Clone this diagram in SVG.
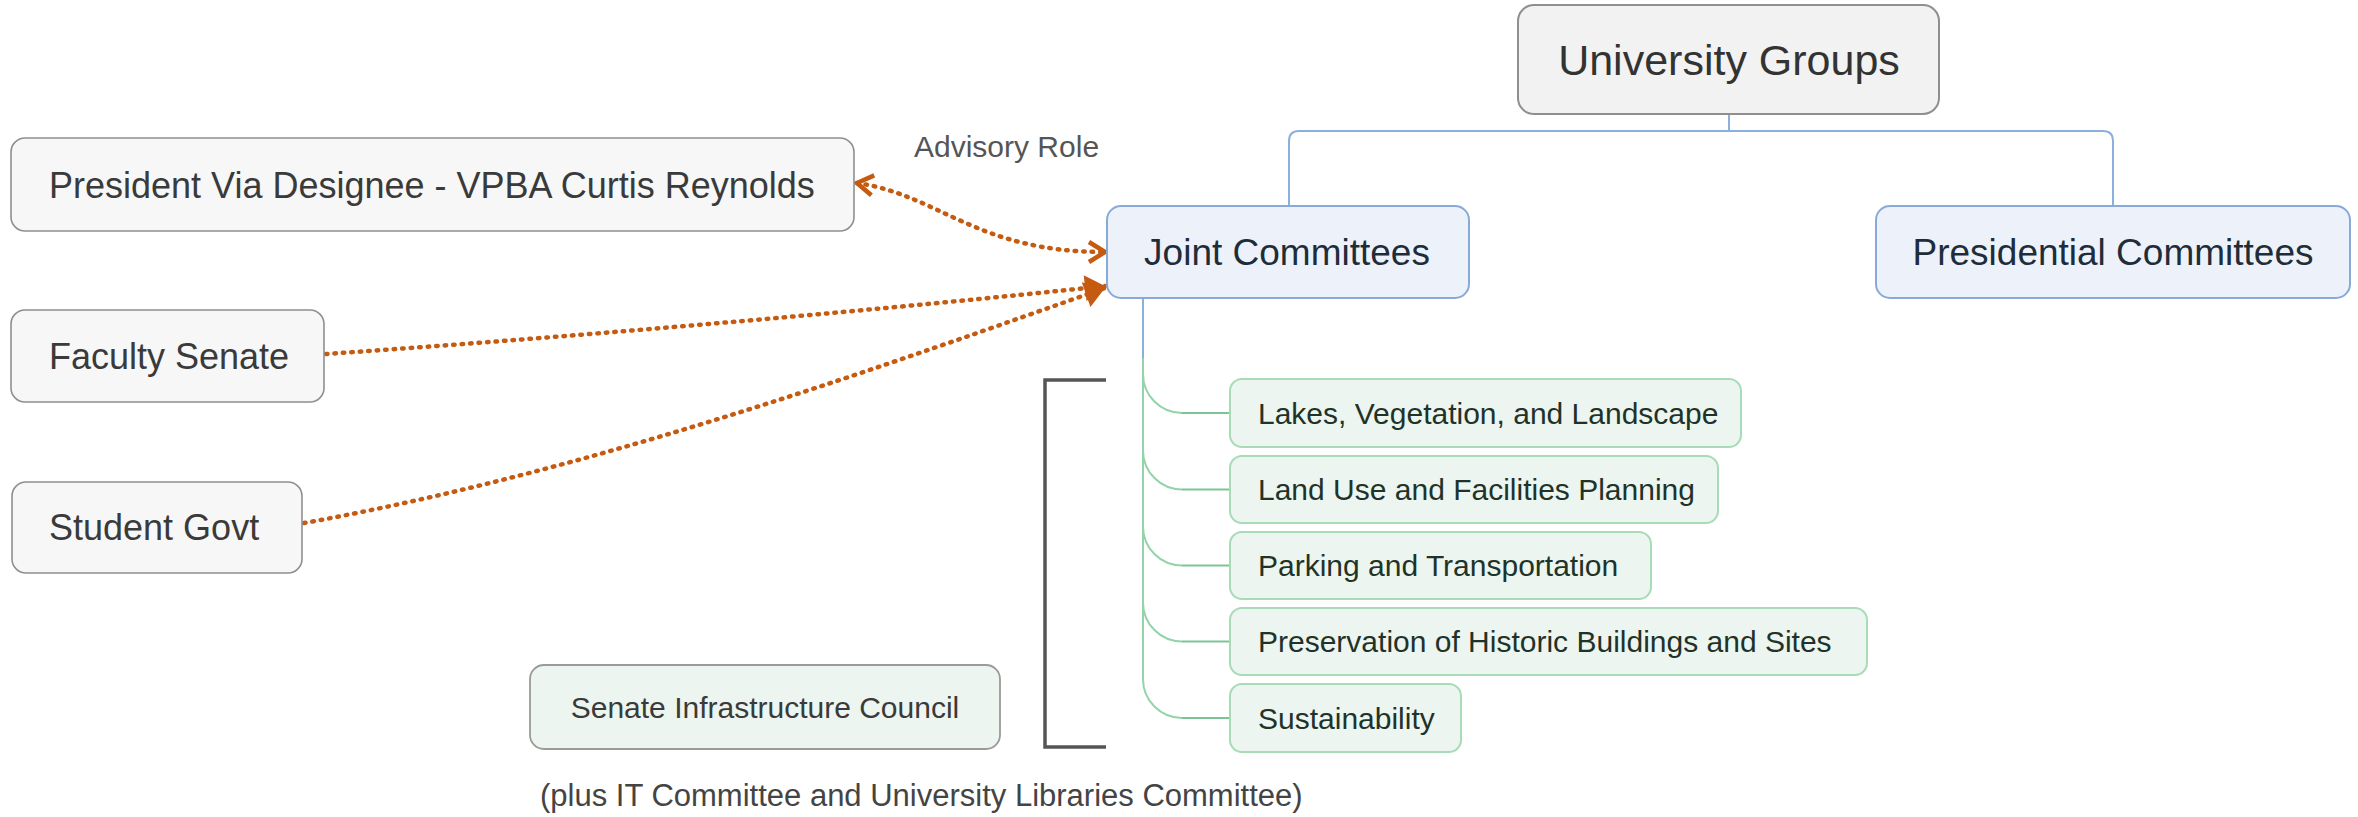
<svg xmlns="http://www.w3.org/2000/svg" width="2358" height="817" viewBox="0 0 2358 817">
<style>
text{font-family:"Liberation Sans",Arial,sans-serif;}
.box0{fill:#f2f2f2;stroke:#8f8f8f;stroke-width:2;}
.box1{fill:#edf2fa;stroke:#88aad6;stroke-width:2;}
.boxl{fill:#f7f7f7;stroke:#8f8f8f;stroke-width:1.6;}
.boxg{fill:#ecf5ef;stroke:#a8dcb8;stroke-width:2;}
.boxs{fill:#ecf5ef;stroke:#9a9a9a;stroke-width:1.8;}
.t0{font-size:43px;fill:#333;text-anchor:middle;}
.t1{font-size:37px;fill:#1f2d3a;text-anchor:middle;}
.tl{font-size:36px;fill:#3a3a3a;}
.tg{font-size:30px;fill:#1f3328;}
.ts{font-size:30px;fill:#3a3a3a;text-anchor:middle;}
.blue{fill:none;stroke:#8cb0dc;stroke-width:2;}
.green{fill:none;stroke:#93d3a9;stroke-width:2;}
.stub{fill:none;stroke:#7cc495;stroke-width:2;}
.rel{fill:none;stroke:#c55a11;stroke-width:4.5;stroke-linecap:round;stroke-dasharray:1.5 7;}
</style>
<defs>
<marker id="chev" viewBox="-22 -14 26 28" refX="0" refY="0" markerWidth="26" markerHeight="28" markerUnits="userSpaceOnUse" orient="auto-start-reverse">
<path d="M-16,-10 L0,0 L-16,10" fill="none" stroke="#c55a11" stroke-width="4.5"/>
</marker>
<marker id="tri" viewBox="-22 -14 26 28" refX="0" refY="0" markerWidth="26" markerHeight="28" markerUnits="userSpaceOnUse" orient="auto">
<path d="M-20,-13 L0,0 L-20,13 Z" fill="#c55a11"/>
</marker>
</defs>

<g id="connectors">
<path class="blue" d="M1729,114 V131"/>
<path class="blue" d="M1289,206 V141 Q1289,131 1299,131 H2103 Q2113,131 2113,141 V206"/>
<path class="blue" d="M1143,298 V358"/>
<path class="green" d="M1143,358 V679"/>
<path class="green" d="M1143,374 A39,39 0 0 0 1182,413"/>
<path class="stub" d="M1182,413 H1230"/>
<path class="green" d="M1143,450.5 A39,39 0 0 0 1182,489.5"/>
<path class="stub" d="M1182,489.5 H1230"/>
<path class="green" d="M1143,526.5 A39,39 0 0 0 1182,565.5"/>
<path class="stub" d="M1182,565.5 H1230"/>
<path class="green" d="M1143,602.5 A39,39 0 0 0 1182,641.5"/>
<path class="stub" d="M1182,641.5 H1230"/>
<path class="green" d="M1143,679 A39,39 0 0 0 1182,718"/>
<path class="stub" d="M1182,718 H1230"/>
<path class="rel" d="M857,183 C940,195 975,252 1105,252" marker-start="url(#chev)" marker-end="url(#chev)"/>
<path class="rel" d="M326,354 C600,335 900,308 1105,286" marker-end="url(#tri)"/>
<path class="rel" d="M304,523 C600,470 900,360 1105,288" marker-end="url(#tri)"/>
<text x="914" y="157" style="font-size:30px;fill:#555;">Advisory Role</text>
</g>

<g id="university-groups">
<rect class="box0" x="1518" y="5" width="421" height="109" rx="16"/>
<text class="t0" x="1729" y="75">University Groups</text>
</g>
<g id="joint-committees">
<rect class="box1" x="1107" y="206" width="362" height="92" rx="14"/>
<text class="t1" x="1287" y="265">Joint Committees</text>
</g>
<g id="presidential-committees">
<rect class="box1" x="1876" y="206" width="474" height="92" rx="14"/>
<text class="t1" x="2113" y="265">Presidential Committees</text>
</g>
<g id="president">
<rect class="boxl" x="11" y="138" width="843" height="93" rx="14"/>
<text class="tl" x="49" y="198">President Via Designee - VPBA Curtis Reynolds</text>
</g>
<g id="faculty-senate">
<rect class="boxl" x="11" y="310" width="313" height="92" rx="14"/>
<text class="tl" x="49" y="369">Faculty Senate</text>
</g>
<g id="student-govt">
<rect class="boxl" x="12" y="482" width="290" height="91" rx="14"/>
<text class="tl" x="49" y="540">Student Govt</text>
</g>
<g id="lakes">
<rect class="boxg" x="1230" y="379" width="511" height="68" rx="12"/>
<text class="tg" x="1258" y="424">Lakes, Vegetation, and Landscape</text>
</g>
<g id="land-use">
<rect class="boxg" x="1230" y="456" width="488" height="67" rx="12"/>
<text class="tg" x="1258" y="500">Land Use and Facilities Planning</text>
</g>
<g id="parking">
<rect class="boxg" x="1230" y="532" width="421" height="67" rx="12"/>
<text class="tg" x="1258" y="576">Parking and Transportation</text>
</g>
<g id="preservation">
<rect class="boxg" x="1230" y="608" width="637" height="67" rx="12"/>
<text class="tg" x="1258" y="652">Preservation of Historic Buildings and Sites</text>
</g>
<g id="sustainability">
<rect class="boxg" x="1230" y="684" width="231" height="68" rx="12"/>
<text class="tg" x="1258" y="729">Sustainability</text>
</g>
<g id="senate-infrastructure-council">
<rect class="boxs" x="530" y="665" width="470" height="84" rx="14"/>
<text class="ts" x="765" y="718">Senate Infrastructure Council</text>
</g>
<g id="bracket">
<path d="M1106,380 H1045 V747 H1106" fill="none" stroke="#555" stroke-width="3.5"/>
</g>
<g id="caption">
<text x="540" y="806" style="font-size:31px;fill:#444;">(plus IT Committee and University Libraries Committee)</text>
</g>
</svg>
